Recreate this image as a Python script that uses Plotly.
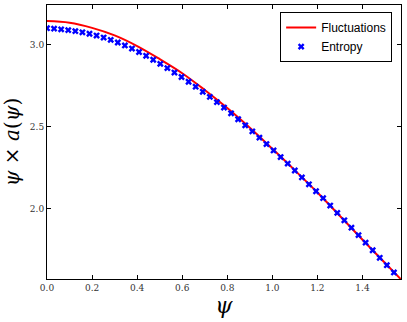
import numpy as np
import plotly.graph_objects as go

# Fluctuations curve
psi_fluct = [0.0, 0.1, 0.2, 0.3, 0.4, 0.5, 0.6, 0.7, 0.8, 0.9, 1.0, 1.1, 1.2, 1.3, 1.4, 1.5, 1.5708]
val_fluct = [3.142, 3.132, 3.101, 3.055, 2.990, 2.911, 2.825, 2.723, 2.613, 2.493, 2.365, 2.234, 2.099, 1.956, 1.812, 1.670, 1.571]

# Entropy points, psi = i*pi/100, i = 0..49
psi_entropy = [i * np.pi / 100 for i in range(50)]
val_entropy = [3.099, 3.096, 3.092, 3.087, 3.081, 3.074, 3.065, 3.054, 3.042, 3.028,
               3.012, 2.994, 2.975, 2.954, 2.931, 2.907, 2.882, 2.856, 2.829, 2.802,
               2.773, 2.743, 2.712, 2.681, 2.649, 2.616, 2.581, 2.545, 2.508, 2.471,
               2.433, 2.394, 2.355, 2.315, 2.275, 2.233, 2.191, 2.149, 2.107, 2.065,
               2.020, 1.975, 1.930, 1.885, 1.840, 1.794, 1.748, 1.702, 1.657, 1.613]

fig = go.Figure()
fig.add_trace(go.Scatter(x=psi_fluct, y=val_fluct, mode='lines', name='Fluctuations',
                         line=dict(color='#ff0000', width=2, shape='spline')))
fig.add_trace(go.Scatter(x=psi_entropy, y=val_entropy, mode='markers', name='Entropy',
                         marker=dict(symbol='x', size=6, color='#0000ff')))

axis_common = dict(showline=True, linecolor='black', linewidth=1, mirror='allticks',
                   ticks='inside', ticklen=4, tickcolor='black', showgrid=False,
                   zeroline=False, automargin=False,
                   tickfont=dict(family='DejaVu Serif', size=9, color='#333'))

fig.update_xaxes(range=[0, np.pi / 2], tickvals=[0, 0.2, 0.4, 0.6, 0.8, 1.0, 1.2, 1.4],
                 tickformat='.1f',
                 title=dict(text='<i>ψ</i>', font=dict(family='DejaVu Serif', size=22, color='black'),
                            standoff=2),
                 **axis_common)
fig.update_yaxes(range=[1.573, 3.24], tickvals=[2.0, 2.5, 3.0], tickformat='.1f',
                 title=dict(text='<i>ψ</i> × <i>a</i>(<i>ψ</i>)',
                            font=dict(family='DejaVu Serif', size=20, color='black'), standoff=4),
                 **axis_common)

fig.update_layout(width=407, height=322, margin=dict(l=47, r=6, t=5, b=43),
                  plot_bgcolor='white', paper_bgcolor='white',
                  legend=dict(x=0.975, y=0.974, xanchor='right', yanchor='top',
                              bordercolor='black', borderwidth=1, bgcolor='white',
                              font=dict(family='Liberation Sans', size=12, color='black'),
                              tracegroupgap=0, itemwidth=30))

# drop the browser's default body margin so the figure sits at the page corner
fig.write_html("out.html", config={'displayModeBar': False},
               post_script="document.body.style.margin='0';")
